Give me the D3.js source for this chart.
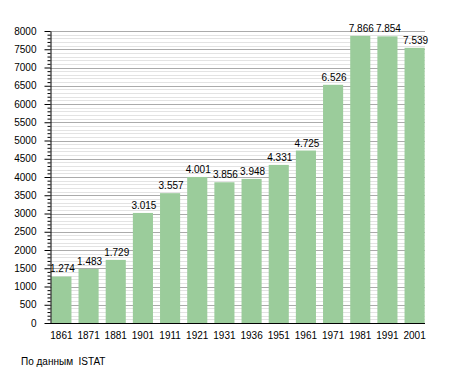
<!DOCTYPE html>
<html lang="ru">
  <head>
    <meta charset="UTF-8" />
    <title>Население</title>
    <style type="text/css">
      body {
        margin: 0;
        background: #ffffff;
        font-family: "Liberation Sans", Arial, Helvetica, sans-serif;
      }
      svg {
        display: block;
      }
      .axis text {
        font-size: 10px;
        fill: #000000;
      }
      .value-label {
        font-size: 10px;
        fill: #000000;
      }
      .source {
        font-size: 10px;
        fill: #000000;
        white-space: pre;
      }
    </style>
  </head>
  <body>
    <script src="https://d3js.org/d3.v7.min.js"></script>
    <script>
      var years = ["1861", "1871", "1881", "1901", "1911", "1921", "1931",
                   "1936", "1951", "1961", "1971", "1981", "1991", "2001"];
      var population = [1274, 1483, 1729, 3015, 3557, 4001, 3856,
                        3948, 4331, 4725, 6526, 7866, 7854, 7539];
      var yTicks = [0, 500, 1000, 1500, 2000, 2500, 3000, 3500,
                    4000, 4500, 5000, 5500, 6000, 6500, 7000, 7500, 8000];
      var sourceText = "По данным  ISTAT";

      var data = years.map((d, i) => ({ year: d, value: population[i] }));

      var width = 455;
      var height = 373;
      var plotLeft = 50, plotRight = 426, plotTop = 31, plotBottom = 323;

      var svg = d3.select("body").append("svg")
        .attr("width", width)
        .attr("height", height);

      var x = d3.scaleBand()
        .domain(years)
        .range([plotLeft, plotRight])
        .paddingInner(0.26)
        .paddingOuter(0.05);

      var y = d3.scaleLinear()
        .domain([0, 8000])
        .range([plotBottom, plotTop]);

      var minor = d3.range(0, 8001, 100).filter((d) => d % 500 !== 0);

      // minor grid
      svg.append("g")
        .selectAll("line")
        .data(minor)
        .join("line")
        .attr("x1", plotLeft)
        .attr("x2", plotRight - 1)
        .attr("y1", (d) => Math.round(y(d)) + 0.5)
        .attr("y2", (d) => Math.round(y(d)) + 0.5)
        .attr("stroke", "#e3e3e3");

      // major grid
      svg.append("g")
        .selectAll("line")
        .data(yTicks.filter((d) => d > 0))
        .join("line")
        .attr("x1", plotLeft)
        .attr("x2", plotRight - 1)
        .attr("y1", (d) => Math.round(y(d)) + 0.5)
        .attr("y2", (d) => Math.round(y(d)) + 0.5)
        .attr("stroke", "#ababab");

      svg.append("g")
        .selectAll("rect")
        .data(data)
        .join("rect")
        .attr("x", (d) => x(d.year))
        .attr("width", x.bandwidth())
        .attr("y", (d) => y(d.value))
        .attr("height", (d) => y(0) - y(d.value))
        .attr("fill", "#9bcc9b");

      var fmt = (v) => d3.format(",")(v).replace(",", ".");

      svg.append("g")
        .selectAll("text")
        .data(data)
        .join("text")
        .attr("class", "value-label")
        .attr("x", (d) => x(d.year) + x.bandwidth() / 2 + 1)
        .attr("y", (d) => y(d.value) - 4)
        .attr("text-anchor", "middle")
        .text((d) => fmt(d.value));

      // y axis with minor ticks
      svg.append("g")
        .attr("transform", `translate(${plotLeft + 0.5},0)`)
        .call(d3.axisLeft(y).tickValues(minor).tickSize(3).tickFormat(""))
        .call((g) => g.select(".domain").remove());

      svg.append("g")
        .attr("class", "axis")
        .attr("transform", `translate(${plotLeft + 0.5},0)`)
        .call(d3.axisLeft(y).tickValues(yTicks).tickSize(6).tickSizeOuter(0).tickPadding(8).tickFormat(d3.format("d")))
        .call((g) => g.selectAll("line").attr("stroke", "#000"))
        .call((g) => g.select(".domain").attr("stroke", "#000"));

      svg.append("g")
        .attr("class", "axis")
        .attr("transform", `translate(0,${plotBottom + 0.5})`)
        .call(d3.axisBottom(x).tickSize(0).tickSizeOuter(0).tickPadding(8))
        .call((g) => g.select(".domain").attr("stroke", "#000").attr("d", `M${plotLeft},0H${plotRight - 1}`));

      svg.append("text")
        .attr("class", "source")
        .attr("x", 21)
        .attr("y", 365)
        .text(sourceText);
    </script>
  </body>
</html>
